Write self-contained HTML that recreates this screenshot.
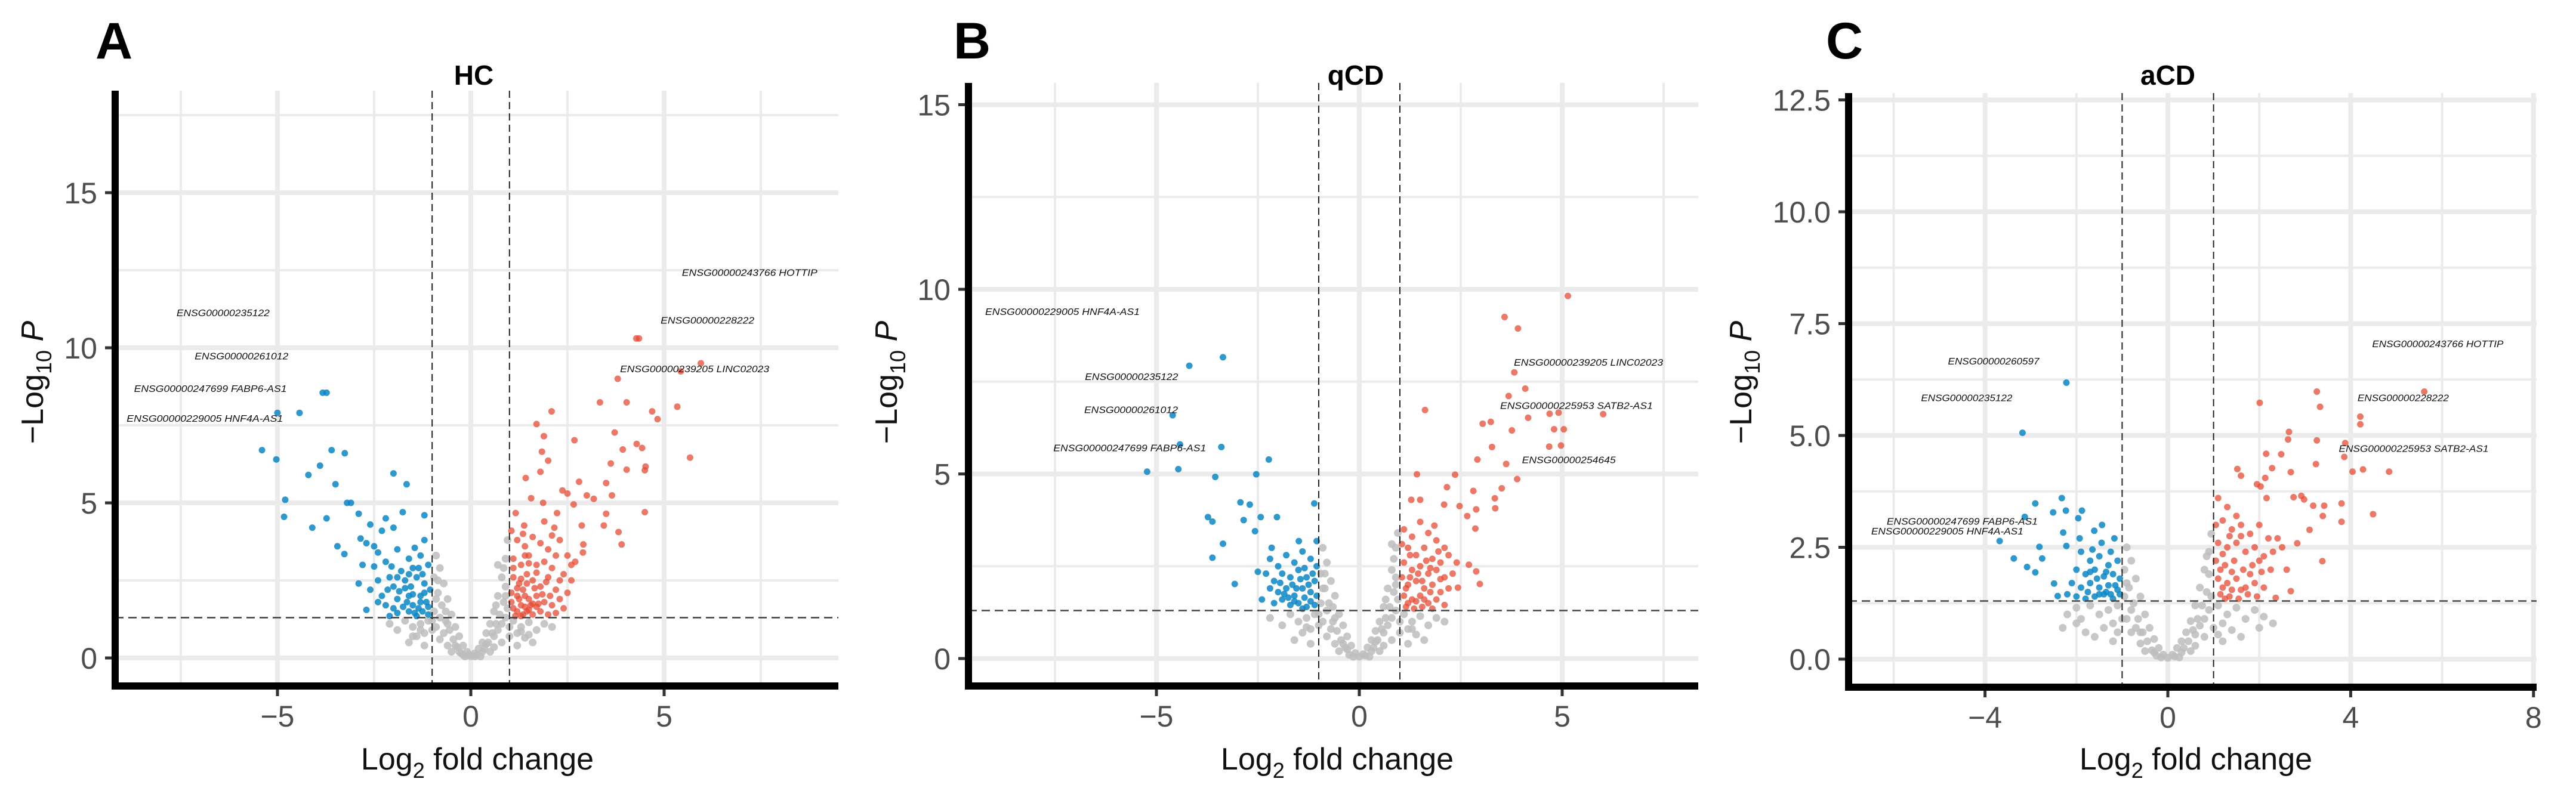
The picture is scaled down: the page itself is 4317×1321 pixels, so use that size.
<!DOCTYPE html>
<html><head><meta charset="utf-8">
<style>
html,body{margin:0;padding:0;background:#fff;}
svg{display:block;font-family:"Liberation Sans",sans-serif;}
</style></head>
<body>
<svg id="fig" width="4317" height="1321" viewBox="0 0 4317 1321" xmlns="http://www.w3.org/2000/svg"></svg>
<script>
// ---------- Panel A (HC) data ----------
const blueA=[[-3.73,8.55],[-3.83,8.55],[-4.43,7.9],[-5.0,7.9],[-5.4,6.7],[-5.03,6.4],[-3.6,6.7],[-3.26,6.6],[-3.9,6.2],[-4.2,5.9],[-3.5,5.6],[-2.0,5.95],[-1.66,5.6],[-4.8,5.1],[-4.83,4.55],[-3.1,5.0],[-3.2,5.0],[-2.9,4.65],[-4.1,4.2],[-3.73,4.5],[-3.45,3.6],[-3.27,3.35],[-1.76,4.7],[-1.2,4.6],[-2.2,4.5],[-2.6,4.3],[-2.3,4.1],[-2.0,4.2],[-2.85,3.85],[-2.7,3.7],[-2.5,3.6],[-2.4,3.4],[-2.8,3.0],[-2.2,3.1],[-1.9,3.5],[-1.6,3.2],[-1.2,3.8],[-1.3,3.3],[-1.1,3.0],[-1.5,2.9],[-1.8,2.8],[-2.1,2.6],[-2.4,2.5],[-2.6,2.2],[-2.3,2.0],[-2.0,2.3],[-1.7,2.5],[-1.4,2.6],[-1.2,2.4],[-1.05,2.2],[-1.3,2.0],[-1.6,2.0],[-1.9,1.9],[-2.2,1.7],[-2.4,1.8],[-2.7,1.55],[-1.5,1.7],[-1.15,1.8],[-1.25,1.5],[-1.6,1.5],[-1.9,1.45],[-2.1,1.35],[-1.4,1.35],[-1.1,1.4],[-1.75,1.65],[-1.35,2.9],[-1.55,2.3],[-1.85,2.15],[-2.05,2.95],[-1.45,3.55],[-2.5,2.95],[-1.65,1.8],[-1.2,2.1],[-2.9,2.4],[-2.15,2.2],[-1.35,1.6],[-1.5,2.05],[-1.7,2.25],[-1.1,1.65],[-1.25,2.7],[-1.9,2.6],[-1.45,1.45],[-2.0,1.6],[-1.3,1.8],[-1.6,2.7]];
const redA=[[4.28,10.3],[4.35,10.3],[5.95,9.5],[5.43,9.24],[3.8,9.0],[3.34,8.24],[4.03,8.24],[2.09,7.95],[1.7,7.54],[4.69,7.95],[4.83,7.7],[5.34,8.1],[3.72,7.27],[1.89,7.15],[2.68,7.02],[1.84,6.65],[2.0,6.36],[4.29,6.9],[4.43,6.77],[3.93,6.72],[5.67,6.46],[3.62,6.27],[4.03,6.07],[4.52,6.17],[4.5,6.05],[1.8,6.0],[1.42,5.8],[2.37,5.4],[2.8,5.68],[3.5,5.64],[3.65,5.24],[2.5,5.3],[3.0,5.24],[3.18,5.13],[1.56,5.15],[1.87,5.0],[2.66,4.95],[3.5,4.65],[4.5,4.7],[1.16,4.67],[2.23,4.67],[2.16,4.2],[2.87,4.27],[3.44,4.27],[3.82,4.06],[3.9,3.66],[2.91,3.66],[1.38,4.27],[1.05,4.1],[1.2,3.8],[1.4,3.6],[1.6,3.9],[1.8,3.7],[2.0,3.5],[2.3,3.8],[2.5,3.3],[2.7,3.1],[2.9,3.4],[1.1,3.2],[1.3,3.0],[1.5,3.3],[1.7,3.0],[1.9,3.1],[2.1,2.9],[2.4,2.7],[2.6,2.5],[1.1,2.6],[1.25,2.4],[1.45,2.7],[1.6,2.5],[1.8,2.3],[2.0,2.6],[2.2,2.2],[1.05,2.1],[1.2,2.0],[1.35,2.2],[1.5,1.9],[1.7,2.0],[1.9,1.8],[2.1,1.7],[2.3,1.9],[1.1,1.6],[1.3,1.7],[1.45,1.5],[1.6,1.4],[1.8,1.5],[2.0,1.4],[2.2,1.45],[1.15,1.35],[1.35,1.4],[1.55,1.7],[1.25,1.9],[1.4,2.0],[1.75,1.75],[2.4,1.6],[2.5,2.1],[1.65,2.25],[1.95,2.45],[1.3,2.55],[1.1,2.9],[1.5,3.05],[2.2,3.3],[1.35,4.0],[1.9,4.4],[2.1,3.95],[1.2,1.5],[1.4,1.65],[1.3,1.35],[1.5,1.55],[1.7,1.65],[1.2,2.25],[1.45,2.4],[1.6,1.75],[1.85,2.05],[1.05,1.8],[2.05,2.0],[1.7,2.75],[1.4,3.3],[2.3,2.5],[2.6,3.0]];
const grayA=[[-0.9,3.3],[-0.8,2.9],[-0.95,2.6],[-0.7,2.4],[-0.85,2.1],[-0.6,1.9],[-0.75,1.7],[-0.5,1.4],[-0.65,1.2],[-0.4,1.0],[-0.55,0.9],[-0.3,0.7],[-0.45,0.6],[-0.2,0.4],[-0.35,0.35],[-0.1,0.2],[-0.25,0.15],[0,0.05],[0.1,0.15],[0.2,0.3],[0.3,0.5],[0.15,0.1],[0.4,0.8],[0.35,0.3],[0.5,1.1],[0.45,0.5],[0.6,1.5],[0.55,0.8],[0.7,2.0],[0.65,1.1],[0.8,2.6],[0.75,1.4],[0.9,3.2],[0.85,1.8],[0.95,3.8],[0.9,2.3],[0.7,3.0],[-1.1,1.2],[-1.3,1.1],[-1.5,1.0],[-1.7,1.2],[-1.9,0.9],[-1.2,0.8],[-1.4,0.7],[-1.0,0.9],[-0.8,0.6],[-0.6,0.4],[-2.1,1.1],[1.1,1.2],[1.3,1.0],[1.5,1.15],[1.7,0.9],[1.9,1.1],[1.2,0.8],[1.4,0.65],[1.0,0.7],[0.8,0.5],[0.6,0.35],[2.1,1.0],[-0.95,1.5],[0.95,1.6],[-0.15,0.05],[0.25,0.05],[-0.05,0.1],[0.5,0.2],[-0.5,0.2],[-0.8,1.3],[0.8,1.1],[-0.9,1.9],[0.85,2.9],[-1.6,0.5],[1.6,0.5],[-1.2,0.4],[1.2,0.4],[-0.9,1.0],[-0.7,0.8],[-0.6,1.1],[-0.4,0.4],[-0.3,0.2],[0.3,0.2],[0.4,0.45],[0.6,0.7],[0.7,0.9],[0.9,1.3],[0.65,1.7],[-0.65,1.5],[-0.85,2.5],[0.9,2.0],[-1.0,1.2],[1.0,1.0],[-1.3,0.9],[1.3,0.85],[-1.5,0.7],[1.5,0.75],[-0.2,0.1],[0.1,0.05]];
const labelsA=[["ENSG00000243766 HOTTIP",5.46,12.4,227],["ENSG00000228222",4.91,10.86,157],["ENSG00000239205 LINC02023",3.86,9.29,250],["ENSG00000235122",-7.61,11.1,156],["ENSG00000261012",-7.14,9.71,157],["ENSG00000247699 FABP6-AS1",-8.71,8.66,256],["ENSG00000229005 HNF4A-AS1",-8.9,7.7,262]];
const xTicksA=[-5,0,5], xMinorA=[-7.5,-2.5,2.5,7.5], yTicksA=[0,5,10,15], yMinorA=[2.5,7.5,12.5,17.5];
const yTickLabelsA=["0","5","10","15"], xTickLabelsA=["\u22125","0","5"];

// ---------- Panel B (qCD) data ----------
const blueB=[[-3.36,8.16],[-4.19,7.93],[-4.6,6.59],[-4.42,5.8],[-3.4,5.73],[-5.23,5.06],[-4.46,5.13],[-3.55,4.92],[-2.23,5.39],[-2.54,4.99],[-1.11,4.2],[-2.93,4.23],[-2.7,4.17],[-3.73,3.83],[-3.62,3.71],[-2.85,3.75],[-2.43,3.83],[-2.03,3.83],[-3.36,3.11],[-3.62,2.73],[-3.07,2.02],[-2.57,3.45],[-2.16,3.0],[-1.49,3.18],[-1.05,3.18],[-2.2,2.7],[-2.0,2.5],[-1.8,2.8],[-1.6,2.6],[-1.4,2.9],[-1.2,2.7],[-1.05,2.5],[-2.3,2.3],[-2.1,2.1],[-1.9,2.3],[-1.7,2.2],[-1.5,2.4],[-1.3,2.2],[-1.1,2.1],[-2.2,1.9],[-2.0,1.8],[-1.8,1.9],[-1.6,1.7],[-1.4,1.9],[-1.2,1.8],[-1.05,1.7],[-2.4,1.6],[-2.1,1.5],[-1.9,1.6],[-1.7,1.45],[-1.5,1.5],[-1.3,1.4],[-1.1,1.45],[-1.55,1.9],[-1.35,1.65],[-1.75,1.65],[-1.25,2.0],[-1.65,2.0],[-1.45,2.15],[-2.5,2.35],[-1.2,1.55],[-1.4,1.35],[-1.6,1.55],[-1.85,1.75],[-1.15,2.3],[-1.35,2.45],[-1.95,2.05]];
const redB=[[5.14,9.82],[3.58,9.25],[3.91,8.94],[3.82,7.75],[4.09,7.31],[3.68,7.11],[1.62,6.73],[3.04,6.36],[3.24,6.41],[4.16,6.52],[4.69,6.63],[4.91,6.66],[6.01,6.62],[3.76,6.18],[4.8,6.21],[5.04,6.21],[3.27,5.73],[4.68,5.74],[4.97,5.77],[2.91,5.39],[3.62,5.27],[1.42,4.99],[2.36,4.98],[3.89,4.86],[3.51,4.61],[2.16,4.64],[2.81,4.54],[3.34,4.34],[1.28,4.3],[1.5,4.3],[2.09,4.17],[2.47,4.13],[2.66,3.86],[2.88,4.04],[3.35,4.07],[2.86,3.52],[2.7,2.54],[2.88,2.36],[2.97,2.02],[2.43,1.92],[1.1,3.5],[1.3,3.3],[1.5,3.7],[1.7,3.4],[1.9,3.2],[2.1,3.0],[1.2,3.0],[1.4,2.8],[1.6,3.0],[1.8,2.7],[2.0,2.6],[2.2,2.8],[1.1,2.6],[1.3,2.4],[1.5,2.5],[1.7,2.3],[1.9,2.4],[2.1,2.2],[2.3,2.3],[1.05,2.2],[1.2,2.0],[1.4,2.1],[1.6,1.9],[1.8,2.0],[2.0,1.8],[2.2,1.9],[1.1,1.7],[1.3,1.6],[1.5,1.7],[1.7,1.5],[1.9,1.6],[2.1,1.45],[1.15,1.4],[1.35,1.35],[1.55,1.4],[1.75,1.8],[1.45,2.3],[1.25,2.8],[1.65,2.65],[1.95,2.9],[2.4,2.6],[1.05,3.1],[1.85,3.6],[1.2,1.5],[1.4,1.55],[1.6,1.6],[1.8,1.35],[1.25,2.2],[1.55,2.1],[1.75,2.45],[2.0,2.15],[1.15,1.9]];
const grayB=[[-0.9,3.0],[-0.8,2.6],[-0.95,2.3],[-0.7,2.1],[-0.85,1.9],[-0.6,1.7],[-0.75,1.5],[-0.5,1.2],[-0.65,1.0],[-0.4,0.9],[-0.55,0.75],[-0.3,0.6],[-0.45,0.5],[-0.2,0.35],[-0.35,0.3],[-0.1,0.15],[-0.25,0.1],[0,0.05],[0.1,0.12],[0.2,0.3],[0.3,0.5],[0.15,0.08],[0.4,0.75],[0.35,0.3],[0.5,1.0],[0.45,0.5],[0.6,1.4],[0.55,0.8],[0.7,1.9],[0.65,1.1],[0.8,2.4],[0.75,1.4],[0.9,3.0],[0.85,1.8],[0.95,3.4],[0.9,2.2],[0.8,3.1],[-1.1,1.2],[-1.3,1.1],[-1.5,1.0],[-1.7,1.2],[-1.9,0.9],[-2.2,1.1],[-1.2,0.8],[-1.4,0.7],[-1.0,0.9],[-0.8,0.6],[-0.6,0.4],[1.1,1.2],[1.3,1.0],[1.5,1.15],[1.7,0.9],[1.9,1.1],[2.1,1.0],[1.2,0.8],[1.4,0.65],[1.0,0.7],[0.8,0.5],[0.6,0.35],[-0.95,1.5],[0.95,1.6],[-0.15,0.05],[0.25,0.05],[0.5,0.2],[-0.5,0.2],[-0.8,1.3],[0.8,1.1],[-0.9,1.9],[0.85,2.7],[-1.6,0.5],[1.6,0.5],[-1.2,0.4],[1.2,0.4],[-0.9,1.0],[-0.7,0.8],[-0.6,1.1],[-0.4,0.4],[0.4,0.45],[0.6,0.7],[0.7,0.9],[0.9,1.3],[0.65,1.6],[-0.65,1.4],[-0.85,2.3],[0.9,2.0],[-1.0,1.2],[1.0,1.0],[-1.3,0.85],[1.3,0.8],[-0.3,0.25],[0.3,0.2]];
const labelsB=[["ENSG00000229005 HNF4A-AS1",-9.22,9.37,259],["ENSG00000235122",-6.76,7.61,156],["ENSG00000261012",-6.78,6.72,157],["ENSG00000247699 FABP6-AS1",-7.54,5.68,256],["ENSG00000239205 LINC02023",3.81,8.0,250],["ENSG00000225953 SATB2-AS1",3.47,6.83,256],["ENSG00000254645",4.01,5.36,157]];
const xTicksB=[-5,0,5], xMinorB=[-7.5,-2.5,2.5,7.5], yTicksB=[0,5,10,15], yMinorB=[2.5,7.5,12.5];
const yTickLabelsB=["0","5","10","15"], xTickLabelsB=["\u22125","0","5"];

// ---------- Panel C (aCD) data ----------
const blueC=[[-2.22,6.18],[-3.18,5.06],[-2.32,3.6],[-2.9,3.48],[-2.51,3.28],[-2.23,3.32],[-1.88,3.32],[-1.96,3.15],[-3.13,3.18],[-3.68,2.64],[-2.81,2.51],[-2.75,2.25],[-3.37,2.25],[-3.08,2.06],[-2.9,1.94],[-2.29,2.83],[-2.22,2.53],[-1.93,2.7],[-1.44,3.0],[-1.17,2.7],[-1.61,2.87],[-2.49,1.69],[-2.41,1.41],[-1.9,2.4],[-1.7,2.2],[-1.5,2.3],[-1.3,2.1],[-1.1,2.2],[-2.0,2.0],[-1.8,1.9],[-1.6,2.0],[-1.4,1.85],[-1.2,1.9],[-1.05,1.8],[-2.1,1.7],[-1.9,1.6],[-1.7,1.7],[-1.5,1.6],[-1.3,1.65],[-1.1,1.55],[-2.2,1.45],[-2.0,1.4],[-1.8,1.35],[-1.6,1.4],[-1.4,1.45],[-1.2,1.35],[-1.05,1.45],[-1.55,1.8],[-1.35,1.5],[-1.75,1.5],[-1.25,2.4],[-1.45,2.6],[-1.65,2.45],[-1.15,1.65],[-1.35,1.95],[-1.5,1.45],[-1.7,1.95],[-1.25,1.45]];
const redC=[[5.61,5.98],[3.26,5.98],[3.33,5.64],[2.01,5.73],[4.21,5.42],[4.21,5.25],[2.65,5.08],[2.63,4.91],[3.26,4.89],[3.88,4.83],[2.15,4.59],[2.48,4.58],[3.24,4.36],[3.86,4.52],[4.04,4.19],[4.27,4.24],[4.84,4.19],[1.52,4.25],[1.6,4.1],[2.13,4.05],[2.28,4.27],[2.69,4.18],[1.95,3.91],[2.03,3.86],[2.16,3.6],[2.75,3.62],[2.92,3.65],[2.98,3.57],[3.18,3.43],[3.42,3.43],[3.39,3.2],[3.8,3.48],[3.8,3.07],[4.49,3.24],[3.1,2.89],[2.83,2.59],[3.38,2.19],[2.69,1.52],[2.36,1.37],[1.1,3.6],[1.3,3.4],[1.5,3.2],[1.2,3.1],[1.4,2.9],[1.6,3.0],[1.8,2.8],[2.0,3.0],[2.2,2.7],[2.4,2.7],[1.1,2.6],[1.3,2.5],[1.5,2.6],[1.7,2.4],[1.9,2.5],[2.1,2.3],[2.3,2.4],[2.5,2.5],[1.05,2.2],[1.25,2.1],[1.45,2.2],[1.65,2.0],[1.85,2.1],[2.05,1.95],[2.25,2.0],[1.1,1.8],[1.3,1.7],[1.5,1.8],[1.7,1.6],[1.9,1.7],[2.1,1.6],[1.15,1.45],[1.35,1.4],[1.55,1.35],[1.75,1.45],[1.95,1.4],[1.2,2.35],[1.6,2.75],[2.0,2.2],[1.4,1.95],[1.8,1.9],[2.6,2.0],[1.2,1.6],[1.4,1.55],[1.15,2.0],[1.35,2.75],[1.05,3.0],[1.6,1.55],[1.25,1.35]];
const grayC=[[-0.9,2.5],[-0.8,2.2],[-0.95,2.0],[-0.7,1.8],[-0.85,1.6],[-0.6,1.4],[-0.75,1.25],[-0.5,1.0],[-0.65,0.9],[-0.4,0.7],[-0.55,0.6],[-0.3,0.45],[-0.45,0.4],[-0.2,0.25],[-0.35,0.2],[-0.1,0.1],[-0.25,0.08],[0,0.03],[0.1,0.1],[0.2,0.25],[0.3,0.4],[0.15,0.06],[0.4,0.6],[0.35,0.25],[0.5,0.85],[0.45,0.4],[0.6,1.2],[0.55,0.65],[0.7,1.6],[0.65,0.9],[0.8,2.0],[0.75,1.2],[0.9,2.4],[0.85,1.5],[0.95,2.8],[0.9,1.9],[-1.1,1.2],[-1.3,1.1],[-1.5,1.0],[-1.7,1.2],[-1.9,0.9],[-2.0,1.15],[-1.2,0.8],[-1.4,0.7],[-1.0,0.9],[-0.8,0.6],[-0.6,0.35],[-2.2,1.0],[1.1,1.2],[1.3,1.0],[1.5,1.15],[1.7,0.9],[1.9,1.1],[2.1,0.95],[1.2,0.8],[1.4,0.65],[1.0,0.7],[0.8,0.5],[0.6,0.3],[-0.95,1.4],[0.95,1.4],[-0.15,0.04],[0.25,0.04],[0.5,0.18],[-0.5,0.18],[-0.8,1.1],[0.8,0.9],[-0.9,1.7],[0.85,2.3],[-1.6,0.5],[1.6,0.5],[-1.2,0.4],[1.2,0.4],[-2.0,0.8],[-1.8,0.6],[2.0,0.7],[-0.9,0.9],[-0.7,0.7],[0.7,0.75],[0.9,1.1],[-0.6,0.6],[0.6,0.55],[-0.3,0.15],[0.3,0.15],[-1.1,0.6],[1.1,0.55],[-2.3,0.7],[2.3,0.8]];
const labelsC=[["ENSG00000243766 HOTTIP",4.47,7.03,220],["ENSG00000228222",4.15,5.82,153],["ENSG00000225953 SATB2-AS1",3.74,4.69,251],["ENSG00000260597",-4.81,6.64,153],["ENSG00000235122",-5.4,5.82,153],["ENSG00000247699 FABP6-AS1",-6.15,3.06,253],["ENSG00000229005 HNF4A-AS1",-6.49,2.84,255]];
const xTicksC=[-4,0,4,8], xMinorC=[-6,-2,2,6], yTicksC=[0,2.5,5,7.5,10,12.5], yMinorC=[1.25,3.75,6.25,8.75,11.25];
const yTickLabelsC=["0.0","2.5","5.0","7.5","10.0","12.5"], xTickLabelsC=["\u22124","0","4","8"];

const FC_CUT=1, P_CUT=1.3;

const NS="http://www.w3.org/2000/svg";
const svg=document.getElementById('fig');
function mk(tag,attrs,parent){const e=document.createElementNS(NS,tag);for(const k in attrs)e.setAttribute(k,attrs[k]);(parent||svg).appendChild(e);return e;}

function panel(cfg){
  const g=mk('g',{});
  
  
  const sx=v=>cfg.x0px+(v)*cfg.xu;
  const sy=v=>cfg.y0px-(v)*cfg.yu;
  const L=cfg.left,R=cfg.right,T=cfg.top,B=cfg.bottom;
  cfg.xMinor.forEach(v=>{const l=mk('line',{x1:sx(v),x2:sx(v),y1:T,y2:B-6,stroke:'#ebebeb','stroke-width':4},g);});
  cfg.yMinor.forEach(v=>{const l=mk('line',{x1:L,x2:R,y1:sy(v),y2:sy(v),stroke:'#ebebeb','stroke-width':4},g);});
  cfg.xTicks.forEach(v=>{const l=mk('line',{x1:sx(v),x2:sx(v),y1:T,y2:B-6,stroke:'#ebebeb','stroke-width':8},g);});
  cfg.yTicks.forEach(v=>{const l=mk('line',{x1:L,x2:R,y1:sy(v),y2:sy(v),stroke:'#ebebeb','stroke-width':8},g);});
  cfg.gray.forEach(p=>{const c=mk('circle',{cx:sx(p[0]),cy:sy(p[1]),r:6.5,fill:'#bdbdbd','fill-opacity':0.85},g);});
  cfg.blue.forEach(p=>{const c=mk('circle',{cx:sx(p[0]),cy:sy(p[1]),r:5.5,fill:'#0a87c6','fill-opacity':0.85},g);});
  cfg.red.forEach(p=>{const c=mk('circle',{cx:sx(p[0]),cy:sy(p[1]),r:5.5,fill:'#e64b35','fill-opacity':0.75},g);});
  [-FC_CUT,FC_CUT].forEach(v=>{const l=mk('line',{x1:sx(v),x2:sx(v),y1:T,y2:B,stroke:'#222','stroke-width':2,'stroke-dasharray':'12,7'},g);});
  {const l=mk('line',{x1:L,x2:R,y1:sy(P_CUT),y2:sy(P_CUT),stroke:'#444','stroke-width':2.5,'stroke-dasharray':'14,8'},g);}
  cfg.labels.forEach(lb=>{const t=mk('text',{x:sx(lb[1]),y:sy(lb[2]),'font-size':16,'font-style':'italic',fill:'#111','dominant-baseline':'middle',textLength:lb[3],lengthAdjust:'spacingAndGlyphs'},g);t.textContent=lb[0];});
  {const l=mk('line',{x1:L,x2:L,y1:T,y2:B+6,stroke:'#000','stroke-width':12},g);}
  {const l=mk('line',{x1:L-6,x2:R,y1:B,y2:B,stroke:'#000','stroke-width':12},g);}
  cfg.xTicks.forEach((v,i)=>{
    const tk=mk('line',{x1:sx(v),x2:sx(v),y1:B+6,y2:B+17,stroke:'#333','stroke-width':5},g);
    const t=mk('text',{x:sx(v),y:B+68,'font-size':50,fill:'#4d4d4d','text-anchor':'middle'},g);t.textContent=cfg.xLabels[i];});
  cfg.yTicks.forEach((v,i)=>{
    const tk=mk('line',{x1:L-17,x2:L-6,y1:sy(v),y2:sy(v),stroke:'#333','stroke-width':5},g);
    const t=mk('text',{x:L-30,y:sy(v)+18,'font-size':50,fill:'#4d4d4d','text-anchor':'end'},g);t.textContent=cfg.yLabels[i];});
  {const t=mk('text',{x:cfg.titleX,y:142,'font-size':46,'font-weight':'bold','text-anchor':'middle',fill:'#000'},g);t.textContent=cfg.title;}
  {const t=mk('text',{x:cfg.letterX,y:98,'font-size':86,'font-weight':'bold',fill:'#000'},g);t.textContent=cfg.id;}
  {const t=mk('text',{x:cfg.xtX,y:1290,'font-size':52,fill:'#111','text-anchor':'middle'},g);
   t.innerHTML='Log<tspan font-size="36" dy="14">2</tspan><tspan dy="-14"> fold change</tspan>';
   }
  {const t=mk('text',{x:0,y:0,'font-size':52,fill:'#111','text-anchor':'middle',transform:'translate('+cfg.ytX+',641) rotate(-90)'},g);
   t.innerHTML='\u2212Log<tspan font-size="36" dy="14">10</tspan><tspan dy="-14" font-style="italic"> P</tspan>';
   }
}

panel({id:'A',title:'HC',x0px:789,xu:64.8,y0px:1103,yu:52.0,left:193,right:1405,top:152,bottom:1150,
  xTicks:xTicksA,xMinor:xMinorA,yTicks:yTicksA,yMinor:yMinorA,xLabels:xTickLabelsA,yLabels:yTickLabelsA,
  gray:grayA,blue:blueA,red:redA,labels:labelsA,titleX:794,letterX:160,xtX:800,ytX:72});
panel({id:'B',title:'qCD',x0px:2278,xu:68,y0px:1104,yu:61.9,left:1623,right:2846,top:139,bottom:1150,
  xTicks:xTicksB,xMinor:xMinorB,yTicks:yTicksB,yMinor:yMinorB,xLabels:xTickLabelsB,yLabels:yTickLabelsB,
  gray:grayB,blue:blueB,red:redB,labels:labelsB,titleX:2272,letterX:1598,xtX:2241,ytX:1503});
panel({id:'C',title:'aCD',x0px:3633,xu:76.6,y0px:1105,yu:75.0,left:3098,right:4251,top:156,bottom:1152,
  xTicks:xTicksC,xMinor:xMinorC,yTicks:yTicksC,yMinor:yMinorC,xLabels:xTickLabelsC,yLabels:yTickLabelsC,
  gray:grayC,blue:blueC,red:redC,labels:labelsC,titleX:3633,letterX:3060,xtX:3680,ytX:2935});
</script>
</body></html>
